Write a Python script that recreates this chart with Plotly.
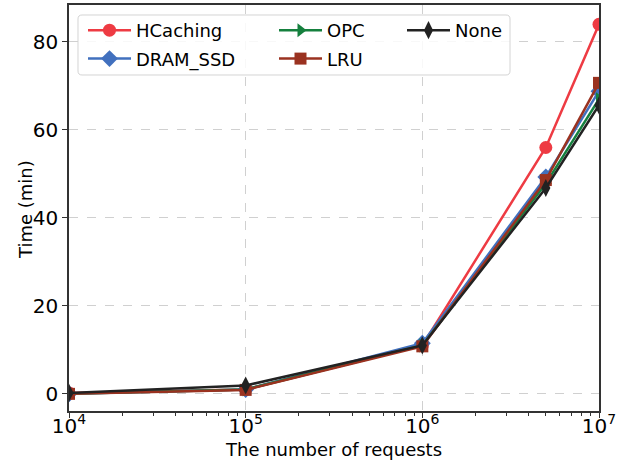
import plotly.graph_objects as go

requests = [1e4, 1e5, 1e6, 5e6, 1e7]
hcaching = [0.2, 1.0, 11.0, 56.0, 84.0]
dram_ssd = [0.0, 1.0, 11.5, 49.3, 68.8]
opc = [0.0, 1.0, 11.0, 47.8, 67.0]
lru = [0.0, 0.9, 10.8, 48.6, 70.7]
none_ = [0.2, 1.9, 11.0, 46.8, 65.6]

x_tickvals = [1e4, 1e5, 1e6, 1e7]
x_ticktext = ["10<sup>4</sup>", "10<sup>5</sup>", "10<sup>6</sup>", "10<sup>7</sup>"]
x_minor = [m * 10 ** e for e in (4, 5, 6) for m in range(2, 10)]
y_tickvals = [0, 20, 40, 60, 80]

# name, values, colour, symbol, size, legend
series = [
    ("HCaching", hcaching, "#ee3b43", "circle", 13, "legend"),
    ("DRAM_SSD", dram_ssd, "#4170be", "diamond", 13, "legend"),
    ("OPC", opc, "#15803e", "triangle-right", 12, "legend2"),
    ("LRU", lru, "#9a3220", "square", 12, "legend2"),
    ("None", none_, "#222222", "diamond-tall", 13, "legend3"),
]

# plot area in pixels
L, R, T, B = 69, 599, 5, 411
W, H = R - L, B - T


def px(xp):
    return (xp - L) / W


def py(yp):
    return (B - yp) / H


fig = go.Figure()
for name, vals, color, sym, size, leg in series:
    fig.add_trace(go.Scatter(
        x=requests, y=vals, name=name, mode="lines+markers",
        line=dict(color=color, width=2.5),
        marker=dict(symbol=sym, size=size, color=color, line=dict(width=0)),
        legend=leg, legendgroup=name,
    ))

font = "DejaVu Sans"


def leg(xpix):
    return dict(
        x=px(xpix), y=py(12), xanchor="left", yanchor="top",
        bgcolor="rgba(0,0,0,0)", borderwidth=0,
        font=dict(family=font, size=18, color="black"),
        itemwidth=43, tracegroupgap=2, orientation="v",
    )


# rounded legend frame
x0, x1, y0, y1, r = 78, 510, 15, 75, 4
def P(xp, yp):
    return f"{px(xp):.5f},{py(yp):.5f}"
frame = (f"M {P(x0 + r, y0)} L {P(x1 - r, y0)} Q {P(x1, y0)} {P(x1, y0 + r)} "
         f"L {P(x1, y1 - r)} Q {P(x1, y1)} {P(x1 - r, y1)} "
         f"L {P(x0 + r, y1)} Q {P(x0, y1)} {P(x0, y1 - r)} "
         f"L {P(x0, y0 + r)} Q {P(x0, y0)} {P(x0 + r, y0)} Z")

fig.update_layout(
    width=628, height=461,
    margin=dict(l=L, r=628 - R, t=T, b=461 - B),
    paper_bgcolor="white", plot_bgcolor="white",
    font=dict(family=font, size=18, color="black"),
    showlegend=True,
    legend=leg(83),
    legend2=leg(274),
    legend3=leg(402),
    shapes=[dict(type="path", path=frame, xref="paper", yref="paper",
                 fillcolor="rgba(255,255,255,0.85)", line=dict(color="#d4d4d4", width=1),
                 layer="above")],
    xaxis=dict(
        type="log", range=[4, 7], tickvals=x_tickvals, ticktext=x_ticktext,
        showgrid=True, gridcolor="#d0d0d0", griddash="dash", gridwidth=1,
        showline=True, linecolor="#333333", linewidth=1.5, mirror=True,
        ticks="outside", ticklen=5, tickcolor="#333333", tickwidth=1.2,
        tickfont=dict(size=20), ticklabelstandoff=-9,
        minor=dict(tickvals=x_minor, ticks="outside", ticklen=3, tickcolor="#333333",
                   showgrid=False),
        zeroline=False, automargin=False,
    ),
    yaxis=dict(
        range=[-3.9, 88.4], tickvals=y_tickvals,
        showgrid=True, gridcolor="#d0d0d0", griddash="dash", gridwidth=1,
        showline=True, linecolor="#333333", linewidth=1.5, mirror=True,
        ticks="outside", ticklen=5, tickcolor="#333333", tickwidth=1.2,
        tickfont=dict(size=20),
        zeroline=False, automargin=False,
    ),
    annotations=[
        dict(text="The number of requests", xref="paper", yref="paper",
             x=px(333), y=py(449), xanchor="center", yanchor="middle",
             showarrow=False, font=dict(size=18)),
        dict(text="Time (min)", xref="paper", yref="paper",
             x=px(25), y=py(210), xanchor="center", yanchor="middle",
             textangle=-90, showarrow=False, font=dict(size=18)),
    ],
)

fig.write_html("out.html", config={"displayModeBar": False},
               post_script="document.body.style.margin='0';document.body.style.overflow='hidden';")
